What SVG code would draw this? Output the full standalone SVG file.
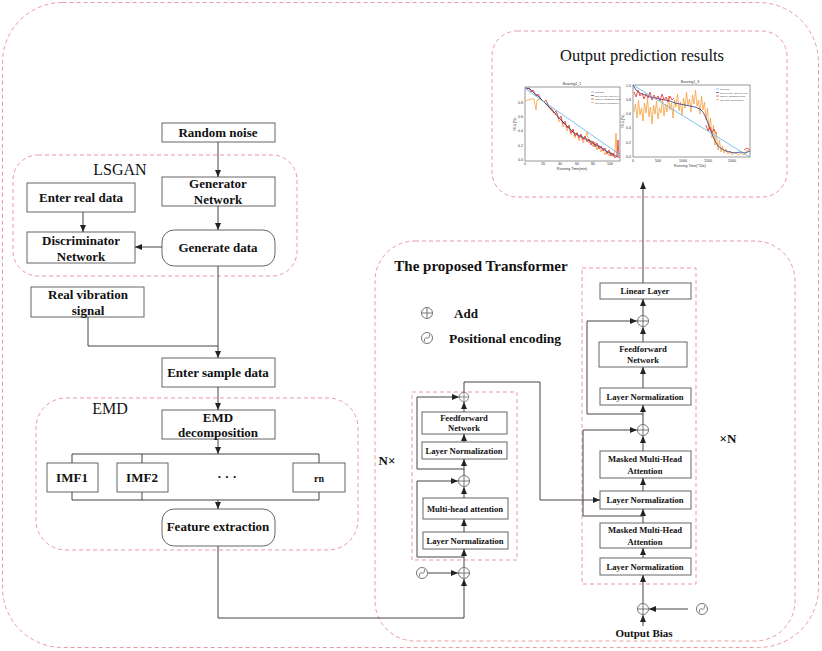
<svg xmlns="http://www.w3.org/2000/svg" xmlns:xlink="http://www.w3.org/1999/xlink" width="822" height="651" viewBox="0 0 822 651">
<style>
.dash{fill:none;stroke:#e99aa4;stroke-width:1;stroke-dasharray:4 3}
.box{fill:#fff;stroke:#666;stroke-width:1}
.t{font-family:"Liberation Serif","Times New Roman",serif;font-weight:bold;fill:#111;text-anchor:middle}
.s13{font-size:13px}
.s9{font-size:8.6px}
.title{font-family:"Liberation Serif","Times New Roman",serif;fill:#111;text-anchor:middle}
.ln{fill:none;stroke:#444;stroke-width:1}
.ar{fill:none;stroke:#444;stroke-width:1;marker-end:url(#ah)}
.tk{font-family:"Liberation Sans",Arial,sans-serif;font-size:3.6px;fill:#333}
.ax{fill:none;stroke:#333;stroke-width:0.5}
.pl{fill:none;stroke-width:0.8;stroke-linejoin:round}
</style>
<defs>
<marker id="ah" markerWidth="7" markerHeight="6" refX="7" refY="3" orient="auto" markerUnits="userSpaceOnUse"><path d="M0,0L7,3L0,6z" fill="#222"/></marker>
<g id="addsym"><circle r="5.5" fill="#fff" stroke="#666" stroke-width="0.9"/><path d="M-5.5,0H5.5M0,-5.5V5.5" stroke="#666" stroke-width="0.9"/></g>
<g id="pesym"><circle r="5.5" fill="#fff" stroke="#666" stroke-width="0.9"/><path d="M-2.5,3.5C-3,0 -1,-1 0,0S2.5,0 2.5,-3.5" fill="none" stroke="#666" stroke-width="0.9"/></g>
</defs>

<rect width="822" height="651" fill="#fff"/>

<!-- container frames -->
<g id="outer-frame"><rect class="dash" x="2.5" y="2.5" width="816" height="645" rx="60"/></g>
<g id="lsgan-frame"><rect class="dash" x="13" y="155" width="284" height="121" rx="25"/><text class="title" x="120" y="175" font-size="16">LSGAN</text></g>
<g id="emd-frame"><rect class="dash" x="36" y="398" width="322" height="152" rx="30"/><text class="title" x="110" y="414" font-size="16">EMD</text></g>
<g id="transformer-frame"><rect class="dash" x="375" y="241" width="420" height="400" rx="40"/><text class="t" x="481" y="271" font-size="15">The proposed Transformer</text></g>
<g id="encoder-frame"><rect class="dash" x="412" y="392" width="105" height="168"/><text class="t" x="387" y="465" font-size="13">N×</text></g>
<g id="decoder-frame"><rect class="dash" x="582" y="268" width="114" height="316"/><text class="t" x="728" y="443" font-size="13">×N</text></g>

<!-- legend -->
<g id="legend">
<use xlink:href="#addsym" x="427" y="313"/>
<text class="t s13" x="466" y="318" font-size="13.5">Add</text>
<use xlink:href="#pesym" x="427" y="338"/>
<text class="t" x="505" y="343" font-size="13.5">Positional encoding</text>
</g>

<!-- left column nodes -->
<g id="random-noise"><rect class="box" x="162" y="123" width="113" height="19"/><text class="t s13" x="218" y="137">Random noise</text></g>
<g id="generator"><rect class="box" x="162" y="177" width="113" height="29"/><text class="t s13" x="218" y="188">Generator</text><text class="t s13" x="218" y="204">Network</text></g>
<g id="enter-real"><rect class="box" x="27" y="183" width="108" height="29"/><text class="t s13" x="81" y="202">Enter real data</text></g>
<g id="discriminator"><rect class="box" x="27" y="232" width="108" height="31"/><text class="t s13" x="81" y="245">Discriminator</text><text class="t s13" x="81" y="261">Network</text></g>
<g id="generate-data"><rect class="box" x="162" y="230" width="113" height="36" rx="12"/><text class="t s13" x="218" y="252">Generate data</text></g>
<g id="real-vibration"><rect class="box" x="31" y="287" width="113" height="30"/><text class="t s13" x="88" y="299">Real vibration</text><text class="t s13" x="88" y="315">signal</text></g>
<g id="enter-sample"><rect class="box" x="162" y="358" width="113" height="29"/><text class="t s13" x="218" y="377">Enter sample data</text></g>
<g id="emd-decomp"><rect class="box" x="162" y="410" width="113" height="29"/><text class="t s13" x="218" y="422">EMD</text><text class="t s13" x="218" y="437">decomposition</text></g>
<g id="imf1"><rect class="box" x="47" y="463" width="51" height="29"/><text class="t s13" x="72" y="482">IMF1</text></g>
<g id="imf2"><rect class="box" x="117" y="463" width="51" height="29"/><text class="t s13" x="142" y="482">IMF2</text></g>
<g id="dots"><text class="t s13" x="227" y="481">· · ·</text></g>
<g id="rn"><rect class="box" x="293" y="463" width="52" height="29"/><text class="t" x="319" y="482" font-size="10">rn</text></g>
<g id="feature-extraction"><rect class="box" x="162" y="509" width="113" height="37" rx="12"/><text class="t s13" x="218" y="531">Feature extraction</text></g>

<!-- encoder nodes -->
<g id="enc-add-top"><use xlink:href="#addsym" x="464" y="397" transform="translate(464 397) scale(0.85) translate(-464 -397)"/></g>
<g id="enc-ffn"><rect class="box" x="422" y="412" width="85" height="22"/><text class="t s9" x="464" y="421">Feedforward</text><text class="t s9" x="464" y="431">Network</text></g>
<g id="enc-ln2"><rect class="box" x="422" y="442" width="85" height="17"/><text class="t s9" x="464" y="453.5">Layer Normalization</text></g>
<g id="enc-add-mid"><use xlink:href="#addsym" x="464" y="481"/></g>
<g id="enc-mha"><rect class="box" x="423" y="498" width="85" height="21"/><text class="t s9" x="465" y="511.5">Multi-head attention</text></g>
<g id="enc-ln1"><rect class="box" x="423" y="532" width="85" height="17"/><text class="t s9" x="465" y="543.5">Layer Normalization</text></g>
<g id="enc-add-in"><use xlink:href="#addsym" x="464" y="573"/></g>
<g id="enc-pe"><use xlink:href="#pesym" x="422" y="573"/></g>

<!-- decoder nodes -->
<g id="linear"><rect class="box" x="600" y="283" width="91" height="16"/><text class="t s9" x="645" y="294">Linear Layer</text></g>
<g id="dec-add3"><use xlink:href="#addsym" x="643" y="321"/></g>
<g id="dec-ffn"><rect class="box" x="599" y="342" width="88" height="25"/><text class="t s9" x="643" y="352">Feedforward</text><text class="t s9" x="643" y="363">Network</text></g>
<g id="dec-ln3"><rect class="box" x="600" y="388" width="91" height="17"/><text class="t s9" x="645" y="399.5">Layer Normalization</text></g>
<g id="dec-add2"><use xlink:href="#addsym" x="643" y="430"/></g>
<g id="dec-mmha1"><rect class="box" x="600" y="451" width="91" height="27"/><text class="t s9" x="645" y="462">Masked Multi-Head</text><text class="t s9" x="645" y="474">Attention</text></g>
<g id="dec-ln2"><rect class="box" x="600" y="491" width="91" height="18"/><text class="t s9" x="645" y="503">Layer Normalization</text></g>
<g id="dec-mmha2"><rect class="box" x="600" y="523" width="91" height="25"/><text class="t s9" x="645" y="533">Masked Multi-Head</text><text class="t s9" x="645" y="545">Attention</text></g>
<g id="dec-ln1"><rect class="box" x="600" y="558" width="91" height="17"/><text class="t s9" x="645" y="569.5">Layer Normalization</text></g>
<g id="dec-add-in"><use xlink:href="#addsym" x="643" y="609"/></g>
<g id="dec-pe"><use xlink:href="#pesym" x="702" y="609"/></g>
<g id="output-bias"><text class="t" x="644" y="637" font-size="11">Output Bias</text></g>

<!-- output results -->
<g id="output-results">
<rect class="dash" x="492" y="31" width="295" height="166" rx="25"/>
<text class="title" x="642" y="61" font-size="16.5">Output prediction results</text>
<!-- left chart -->
<text class="tk" x="572" y="85" text-anchor="middle">Bearing2_1</text>
<rect class="ax" x="525" y="87" width="95" height="74" fill="#fff"/>
<polyline class="pl" stroke="#f5a03c" points="525,101 528,100 531,99 534,99 536,110 537,100 540,99 543,101 546,104 549,108 552,111 555,115 557,113 559,122 561,118 563,127 565,123 567,131 569,126 571,135 573,130 575,138 577,132 579,141 581,135 583,143 585,138 587,132 589,143 591,140 593,147 595,142 597,150 599,145 601,152 603,148 605,155 607,151 609,156 611,152 613,157 615,151 616,133 617,156 619,158"/>
<polyline class="pl" stroke="#e03030" points="526,89 529,88 531,92 533,90 536,96 538,94 541,99 544,102 546,100 549,107 552,109 554,113 556,111 559,119 561,116 563,124 565,121 567,128 569,125 571,133 573,129 575,136 577,133 579,138 581,134 583,140 585,136 587,142 589,139 591,145 593,141 595,147 597,143 599,149 601,146 603,151 605,148 607,154 609,150 611,156 613,153 615,158 617,156 618,140 619,158"/>
<polyline class="pl" stroke="#2a3a8c" points="526,88 530,89 534,93 538,96 542,100 546,104 550,108 554,112 558,117 562,121 566,125 570,129 574,133 578,135 582,137 586,139 590,141 594,144 598,146 602,148 606,151 610,153 614,155 618,157"/>
<line x1="525" y1="88.5" x2="619" y2="154" stroke="#5ab4e6" stroke-width="0.8"/>
<g class="tk"><text x="523" y="161" text-anchor="end">0.0</text><text x="523" y="146.5" text-anchor="end">0.2</text><text x="523" y="132" text-anchor="end">0.4</text><text x="523" y="118" text-anchor="end">0.6</text><text x="523" y="104" text-anchor="end">0.8</text>
<text x="525" y="165" text-anchor="middle">0</text><text x="543" y="165" text-anchor="middle">20</text><text x="560" y="165" text-anchor="middle">40</text><text x="577" y="165" text-anchor="middle">60</text><text x="593" y="165" text-anchor="middle">80</text><text x="610" y="165" text-anchor="middle">100</text>
<text x="572" y="170" text-anchor="middle">Running Time(min)</text>
<text transform="translate(516 124) rotate(-90)" text-anchor="middle">RUL(%)</text></g>
<g font-family="Liberation Sans,Arial,sans-serif" font-size="2.2" fill="#333">
<line x1="591" y1="92" x2="594" y2="92" stroke="#5ab4e6" stroke-width="0.7"/><text x="595" y="93">Real RUL</text>
<line x1="591" y1="95.5" x2="594" y2="95.5" stroke="#2a3a8c" stroke-width="0.7"/><text x="595" y="96.5">RUL over the entire life c..</text>
<line x1="591" y1="99" x2="594" y2="99" stroke="#e03030" stroke-width="0.7"/><text x="595" y="100">LSGAN- Transformer RUL</text>
<line x1="591" y1="102.5" x2="594" y2="102.5" stroke="#f5a03c" stroke-width="0.7"/><text x="595" y="103.5">RUL under few samples</text></g>
<!-- right chart -->
<text class="tk" x="690" y="83" text-anchor="middle">Bearing1_3</text>
<rect class="ax" x="633" y="85" width="117" height="72" fill="#fff"/>
<polyline class="pl" stroke="#f5a03c" points="634,112 635.5,104 637,118 638.5,100 640,115 641.5,108 643,121 644.5,103 646,113 647.5,98 649,117 650.5,107 652,124 653.5,105 655,114 656.5,101 658,119 659.5,108 661,113 662.5,99 664,116 665.5,104 667,112 668.5,96 670,110 671.5,103 673,118 674.5,100 676,107 677.5,94 679,111 680.5,102 682,115 683.5,98 685,108 686.5,92 688,105 689.5,99 691,112 692.5,95 694,104 695.5,90 697,106 698.5,100 700,114 701.5,96 703,110 704.5,102 706,120 707.5,108 709,130 710.5,118 712,138 713.5,125 715,145 716.5,132 718,150 719.5,140 721,152 722.5,146 724,153 726,149 728,154 730,151 732,155 735,152 738,155 741,153 744,155 747,150 749,152"/>
<polyline class="pl" stroke="#2a3a8c" points="633,85 636,90 640,93 645,95 650,97 655,98 660,99 665,100 670,101 675,103 680,104 685,105 690,106 695,107 700,109 703,112 706,118 709,126 712,134 715,141 718,146 722,149 726,151 730,152 735,153 740,152 745,153 750,151"/>
<polyline class="pl" stroke="#e03030" points="634,92 636,97 638,90 640,96 642,93 644,99 646,94 648,98 650,92 652,100 654,95 656,99 658,96 660,101 662,94 664,100 666,97 668,102 670,96 672,100 674,98"/>
<polyline class="pl" stroke="#e03030" points="706,125 708,131 710,127 712,133 714,129 716,134"/>
<polyline class="pl" stroke="#e03030" points="744,150 747,148 750,150"/>
<line x1="633" y1="85" x2="750" y2="157" stroke="#5ab4e6" stroke-width="0.8"/>
<g class="tk"><text x="631" y="158" text-anchor="end">0.0</text><text x="631" y="144" text-anchor="end">0.2</text><text x="631" y="129" text-anchor="end">0.4</text><text x="631" y="115" text-anchor="end">0.6</text><text x="631" y="101" text-anchor="end">0.8</text><text x="631" y="86.5" text-anchor="end">1.0</text>
<text x="633" y="161.5" text-anchor="middle">0</text><text x="658" y="161.5" text-anchor="middle">500</text><text x="683" y="161.5" text-anchor="middle">1000</text><text x="708" y="161.5" text-anchor="middle">1500</text><text x="732" y="161.5" text-anchor="middle">2000</text>
<text x="690" y="167" text-anchor="middle">Running Time(*10s)</text>
<text transform="translate(624 121) rotate(-90)" text-anchor="middle">RUL(%)</text></g>
<g font-family="Liberation Sans,Arial,sans-serif" font-size="2.2" fill="#333">
<line x1="716" y1="89" x2="719" y2="89" stroke="#5ab4e6" stroke-width="0.7"/><text x="720" y="90">Real RUL</text>
<line x1="716" y1="92.5" x2="719" y2="92.5" stroke="#2a3a8c" stroke-width="0.7"/><text x="720" y="93.5">RUL over the entire life cycle</text>
<line x1="716" y1="96" x2="719" y2="96" stroke="#e03030" stroke-width="0.7"/><text x="720" y="97">LSGAN- Transformer RUL</text>
<line x1="716" y1="99.5" x2="719" y2="99.5" stroke="#f5a03c" stroke-width="0.7"/><text x="720" y="100.5">RUL under few samples</text></g>
</g>

<!-- connectors -->
<g id="connectors">
<path class="ar" d="M218,142V177"/>
<path class="ar" d="M218,206V230"/>
<path class="ar" d="M162,247H135"/>
<path class="ar" d="M83,212V232"/>
<path class="ar" d="M218,266V358"/>
<path class="ln" d="M88,317V346H218"/>
<path class="ar" d="M218,387V410"/>
<path class="ar" d="M218,439V454"/>
<path class="ln" d="M72,463V454H319V463M142,454V463"/>
<path class="ln" d="M72,492V500H319V492M142,492V500"/>
<path class="ar" d="M218,500V509"/>
<path class="ar" d="M218,546V618H464V579"/>
<path class="ar" d="M428,573H458"/>
<path class="ar" d="M464,567V549"/>
<path class="ar" d="M464,532V519"/>
<path class="ar" d="M464,498V487"/>
<path class="ar" d="M464,557H417V481H458"/>
<path class="ar" d="M464,475V459"/>
<path class="ar" d="M464,469H417V397H459"/>
<path class="ar" d="M464,442V434"/>
<path class="ar" d="M464,412V402"/>
<path class="ar" d="M464,392V382H540V500H600"/>
<path class="ar" d="M643,626V615"/>
<path class="ar" d="M688,609H649"/>
<path class="ar" d="M643,603V575"/>
<path class="ar" d="M643,558V548"/>
<path class="ar" d="M643,523V509"/>
<path class="ar" d="M643,516H583V430H637"/>
<path class="ar" d="M643,491V478"/>
<path class="ar" d="M643,451V436"/>
<path class="ar" d="M643,424V405"/>
<path class="ar" d="M643,414H587V321H637"/>
<path class="ar" d="M643,388V367"/>
<path class="ar" d="M643,342V327"/>
<path class="ar" d="M643,315V299"/>
<path class="ar" d="M643,283V182"/>
</g>
</svg>
